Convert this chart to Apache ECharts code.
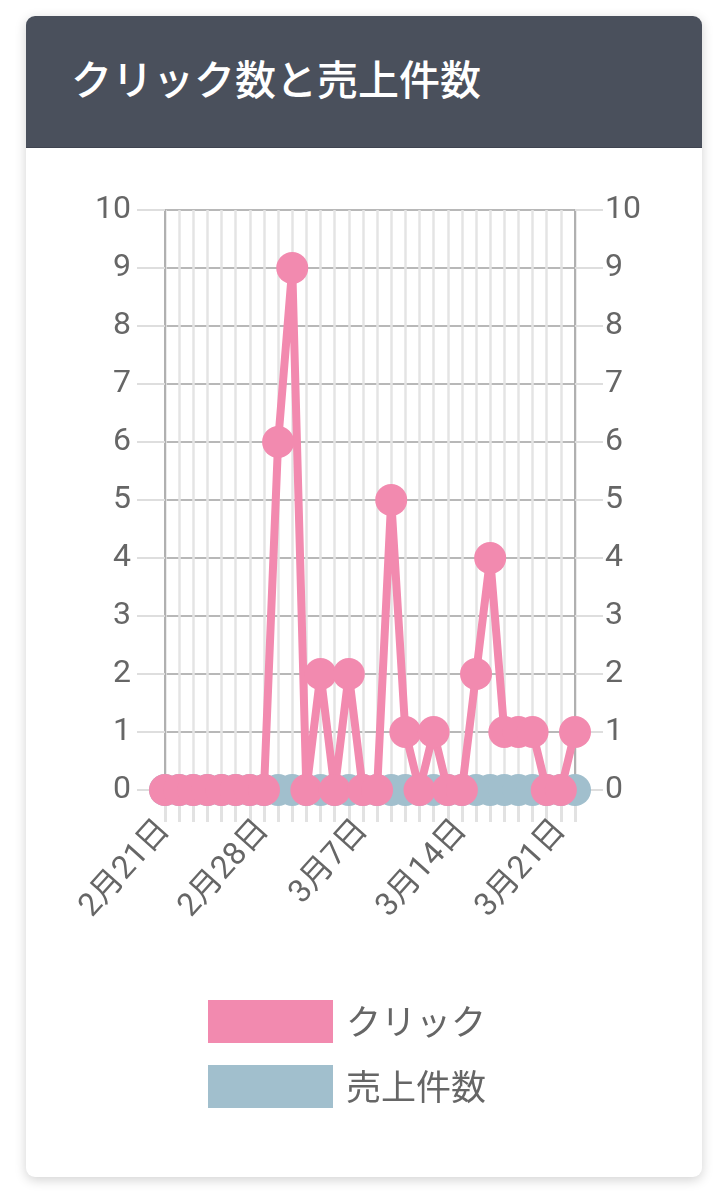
<!DOCTYPE html>
<html>
<head>
<meta charset="utf-8">
<script src="https://cdn.jsdelivr.net/npm/echarts@6/dist/echarts.min.js"></script>
<style>
  html, body { margin:0; padding:0; background:#fff; width:721px; height:1200px; overflow:hidden; }
  #card { position:absolute; left:26px; top:16px; width:676px; height:1161px; background:#fff;
          border-radius:9px; box-shadow:0 3px 12px rgba(0,0,0,0.18); overflow:hidden; }
  #header { position:absolute; left:0; top:0; width:676px; height:131px; background:#4a505c;
            border-bottom:1px solid #3f4450; }
  #title { position:absolute; left:45px; top:36px; color:#fff; font-size:41px; line-height:50px; font-weight:500;
           font-family:"Noto Sans CJK JP", "Noto Sans", sans-serif; letter-spacing:0px; }
  #chart { position:absolute; left:0; top:0; width:721px; height:1200px; }
</style>
</head>
<body>
<div id="card"><div id="header"><div id="title">クリック数と売上件数</div></div></div>
<div id="chart"></div>
<script>
const categories = ["2月21日","2月22日","2月23日","2月24日","2月25日","2月26日","2月27日","2月28日",
  "3月1日","3月2日","3月3日","3月4日","3月5日","3月6日","3月7日","3月8日","3月9日","3月10日",
  "3月11日","3月12日","3月13日","3月14日","3月15日","3月16日","3月17日","3月18日","3月19日",
  "3月20日","3月21日","3月22日"];
const clicks = [0,0,0,0,0,0,0,0,6,9,0,2,0,2,0,0,5,1,0,1,0,0,2,4,1,1,1,0,0,1];
const sales  = [0,0,0,0,0,0,0,0,0,0,0,0,0,0,0,0,0,0,0,0,0,0,0,0,0,0,0,0,0,0];
const yTicks = [0,1,2,3,4,5,6,7,8,9,10];
const seriesNames = ["クリック","売上件数"];

const pink = "#f28aaf", blue = "#a1bfcd";
const fontNum = "Roboto, 'Noto Sans CJK JP', sans-serif";
const chart = echarts.init(document.getElementById('chart'), null, {renderer:'canvas'});
const yBase = {
  type:'value', min:yTicks[0], max:yTicks[yTicks.length-1], interval:1,
  axisLine:{show:true, lineStyle:{color:'#b0b0b0', width:2}},
  axisTick:{show:true, length:28, lineStyle:{color:'#dedede', width:2}},
  axisLabel:{color:'#666', fontSize:32, fontFamily:fontNum},
};
chart.setOption({
  animation:false,
  grid:{left:165, right:146, top:210, bottom:410, containLabel:false},
  legend:{
    orient:'vertical', left:208, top:1000, itemWidth:125, itemHeight:43, itemGap:22,
    icon:'rect', padding:0, selectedMode:false,
    textStyle:{color:'#666', fontSize:35, fontFamily:"'Noto Sans CJK JP', sans-serif", padding:[0,0,0,8]},
    data:[{name:seriesNames[0], itemStyle:{color:pink}}, {name:seriesNames[1], itemStyle:{color:blue}}]
  },
  xAxis:{
    type:'category', data:categories, boundaryGap:false,
    axisLine:{show:true, lineStyle:{color:'#bbb', width:2}},
    axisTick:{show:true, interval:0, length:32, lineStyle:{color:'#e2e2e2', width:3}},
    axisLabel:{interval:6, rotate:48, margin:35, color:'#666', fontSize:32, fontFamily:fontNum},
    splitLine:{show:true, interval:0, lineStyle:{color:'#e4e4e4', width:2.5}}
  },
  yAxis:[
    Object.assign({}, yBase, {position:'left', axisLabel:Object.assign({}, yBase.axisLabel, {margin:34}),
      splitLine:{show:true, lineStyle:{color:'#b8b8b8', width:2}}}),
    Object.assign({}, yBase, {position:'right', axisLabel:Object.assign({}, yBase.axisLabel, {margin:30}),
      splitLine:{show:false}})
  ],
  series:[
    {name:seriesNames[1], type:'line', yAxisIndex:1, data:sales, clip:false,
     symbol:'circle', symbolSize:32, showAllSymbol:true,
     lineStyle:{color:blue, width:8}, itemStyle:{color:blue}, z:2},
    {name:seriesNames[0], type:'line', yAxisIndex:0, data:clicks, clip:false,
     symbol:'circle', symbolSize:32, showAllSymbol:true,
     lineStyle:{color:pink, width:8}, itemStyle:{color:pink}, z:3}
  ]
});
</script>
</body>
</html>
